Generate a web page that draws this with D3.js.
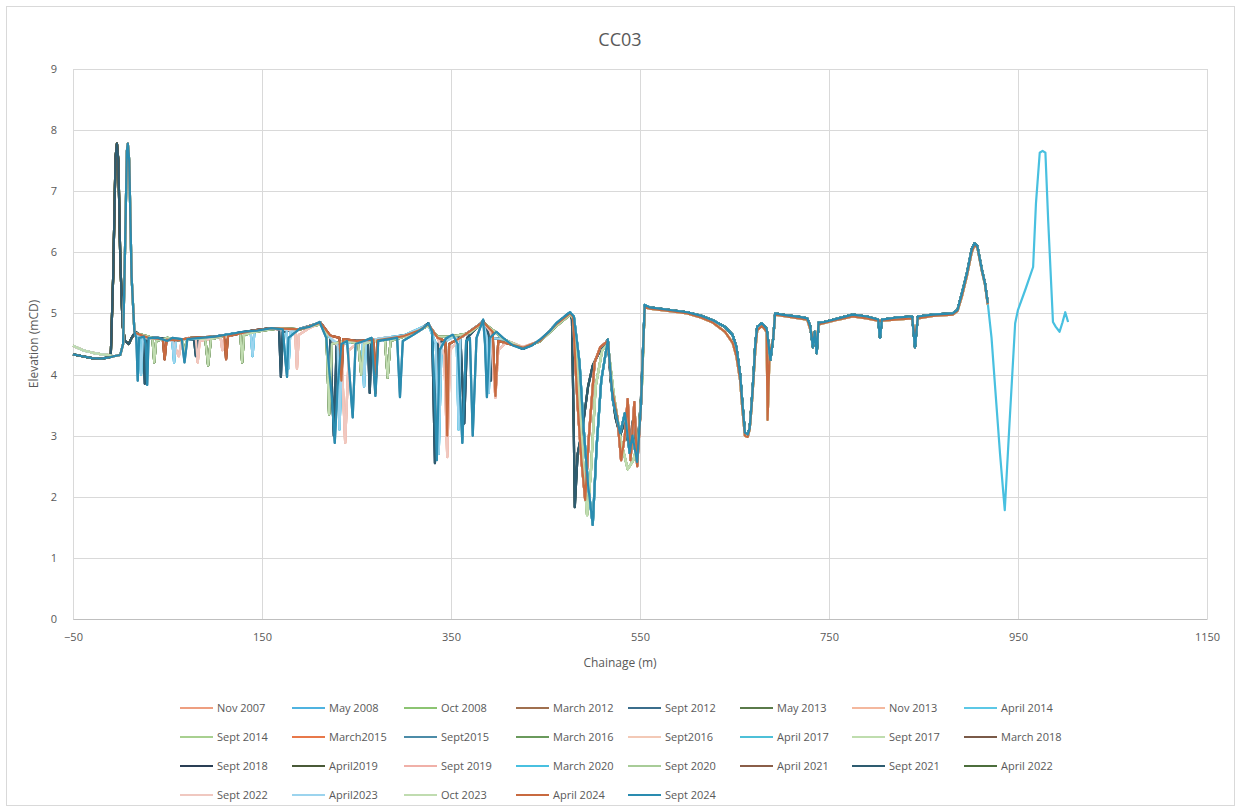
<!DOCTYPE html>
<html><head><meta charset="utf-8">
<script src="https://cdn.jsdelivr.net/npm/d3@7"></script>
<style>body{margin:0;background:#fff}svg text{font-family:"Open Sans","Liberation Sans",sans-serif;fill:#595959}</style>
</head><body><svg id="c" width="1241" height="812"></svg>
<script>
// ---- data ----
const xTicks = [-50, 150, 350, 550, 750, 950, 1150];
const yTicks = [0,1,2,3,4,5,6,7,8,9];
const seriesNames = ["Nov 2007","May 2008","Oct 2008","March 2012","Sept 2012","May 2013","Nov 2013","April 2014",
 "Sept 2014","March2015","Sept2015","March 2016","Sept2016","April 2017","Sept 2017","March 2018",
 "Sept 2018","April2019","Sept 2019","March 2020","Sept 2020","April 2021","Sept 2021","April 2022",
 "Sept 2022","April2023","Oct 2023","April 2024","Sept 2024"];
const seriesColors = ["#EE9F80","#4FB3E0","#8CC472","#A0704F","#3B6E8C","#5A7A4A","#F4B89E","#5CC8E6",
 "#A8D090","#E8784A","#4C8CA8","#6A9A5C","#F3C9B6","#4EC0D8","#BFDDAE","#7A5A48",
 "#2A3F55","#4A5A38","#F0B0A8","#48C0E0","#A8CC98","#8A5E48","#2E5C70","#4C6E3C",
 "#F0C8C0","#9CD4EE","#C0DCB0","#C86A40","#2A8CB0"];

const startUpper = [[-50,4.47],[-40,4.4],[-30,4.36],[-20,4.33],[-12,4.32]];
const startLower = [[-50,4.33],[-40,4.3],[-30,4.27],[-20,4.26],[-12,4.28]];
const peakA = [[-10,4.32],[-7.5,5.6],[-5,7.55],[-3.5,7.78],[-2,7.5],[0,5.9],[2.5,4.8],[5,4.55],[9,4.5],[12,4.6]];
const peakB = [[-7,4.3],[0,4.32],[3,4.5],[5,6.0],[7,7.65],[8,7.78],[9.5,7.5],[12,5.6],[15,4.7]];

const levelTeal = [[17,4.6],[18.5,3.9],[20,4.6],[25,4.62],[27,4.5],[28.5,3.83],[30,4.6],[40,4.6],[50,4.55],[55,4.6],[65,4.58],[68,4.2],[71,4.58],[85,4.6],[100,4.62],[115,4.66],[130,4.7],[145,4.72],[160,4.76],[172,4.74],[175,4.2],[176.5,3.96],[178,4.6],[190,4.75],[200,4.78],[211,4.86],[218,4.6],[224,3.6],[227,2.88],[230,3.8],[234,4.5],[240,4.55],[244,3.7],[246,3.3],[249,4.5],[258,4.55],[266,4.6],[270,3.65],[273,4.55],[285,4.58],[293,4.6],[296,3.63],[299,4.55],[310,4.65],[320,4.75],[326,4.84],[330,4.7],[333,3.5],[335,2.6],[338,4.4],[345,4.6],[352,4.65],[357,4.5],[362,2.88],[366,4.55],[370,4.6],[373,3.0],[377,4.6],[384,4.9],[386,4.5],[388,3.63],[391,4.6],[398,4.7],[405,4.6],[415,4.48],[426,4.42],[435,4.47],[444,4.57],[455,4.72],[462,4.85],[470,4.95],[476,5.02]];
const levelSalmon = [[16,4.65],[25,4.6],[40,4.58],[55,4.55],[62,4.3],[65,4.55],[72,4.6],[80,4.58],[82,4.2],[84,4.55],[100,4.6],[106,4.62],[108,4.4],[110,4.6],[120,4.66],[140,4.7],[160,4.75],[185,4.72],[187,4.1],[189,4.65],[200,4.76],[212,4.84],[222,4.62],[234,4.4],[238,2.88],[242,4.4],[250,4.5],[260,4.55],[280,4.6],[300,4.62],[315,4.7],[326,4.82],[336,4.6],[343,4.3],[346,2.65],[349,4.4],[360,4.6],[384,4.85],[392,4.7],[395,4.0],[397,3.62],[400,4.4],[410,4.55],[426,4.45],[444,4.55],[462,4.82],[476,5.0]];
const levelGreen = [[16,4.68],[30,4.62],[34,4.6],[36,4.2],[38,4.55],[50,4.6],[60,4.57],[66,4.55],[68,4.3],[70,4.55],[75,4.6],[90,4.58],[93,4.15],[96,4.58],[115,4.65],[127,4.68],[129,4.2],[131,4.65],[150,4.72],[170,4.76],[190,4.74],[205,4.8],[212,4.82],[218,4.7],[221,3.35],[224,4.5],[240,4.55],[252,4.5],[255,4.0],[258,4.5],[270,4.55],[280,4.58],[283,3.95],[286,4.55],[300,4.62],[316,4.72],[326,4.8],[336,4.62],[350,4.62],[370,4.68],[384,4.85],[395,4.72],[405,4.58],[426,4.44],[444,4.54],[462,4.8],[476,4.98]];
const levelDark = [[16,4.7],[24,4.62],[26,3.85],[28,4.6],[40,4.6],[60,4.56],[78,4.58],[80,4.3],[82,4.56],[100,4.62],[140,4.72],[160,4.76],[168,4.74],[170,3.96],[172,4.7],[190,4.75],[212,4.85],[222,4.62],[226,3.0],[229,4.5],[240,4.55],[262,4.56],[264,3.7],[266,4.55],[300,4.64],[316,4.72],[326,4.84],[330,4.7],[333,2.55],[336,4.5],[350,4.62],[360,4.6],[364,3.2],[367,4.6],[384,4.88],[390,4.65],[392,3.9],[394,4.6],[405,4.58],[426,4.42],[444,4.55],[462,4.84],[476,5.02]];
const levelOrange = [[16,4.68],[30,4.6],[45,4.58],[47,4.25],[49,4.57],[60,4.56],[75,4.6],[100,4.62],[110,4.64],[112,4.25],[114,4.63],[140,4.72],[160,4.76],[190,4.74],[212,4.85],[222,4.64],[232,4.6],[234,3.9],[236,4.58],[250,4.55],[268,4.57],[270,3.7],[272,4.56],[300,4.63],[316,4.72],[326,4.82],[336,4.6],[344,4.55],[346,3.0],[348,4.5],[360,4.6],[384,4.86],[394,4.7],[397,3.65],[400,4.55],[426,4.44],[444,4.55],[462,4.83],[476,5.0]];
const levelBlue = [[16,4.68],[20,4.6],[22,4.0],[24,4.6],[40,4.58],[55,4.56],[57,4.2],[59,4.56],[75,4.58],[100,4.62],[120,4.67],[138,4.7],[140,4.3],[142,4.7],[160,4.76],[176,4.74],[178,4.1],[180,4.7],[212,4.85],[222,4.6],[230,4.5],[232,3.1],[235,4.5],[250,4.55],[256,4.55],[258,3.8],[260,4.55],[280,4.6],[300,4.64],[326,4.82],[334,4.5],[337,2.7],[340,4.5],[350,4.6],[356,4.6],[358,3.1],[360,4.6],[384,4.86],[388,4.6],[390,3.7],[392,4.6],[405,4.58],[426,4.43],[444,4.55],[462,4.84],[476,5.02]];

const trenchA = [[478,4.9],[480,3.0],[481,1.83],[484,2.7],[489,3.1],[495,3.8],[500,4.15],[508,4.4],[516,4.57],[519,3.9],[524,3.3],[529,3.0],[533,3.2],[539,2.8],[543,3.3],[547,2.7],[551,3.6],[555,5.12]];
const trenchB = [[479,4.95],[484,3.5],[488,2.6],[492,1.95],[496,3.0],[502,4.2],[508,4.45],[516,4.55],[520,3.8],[526,3.3],[530,2.6],[534,3.0],[537,3.6],[540,2.6],[544,3.55],[547,2.5],[551,3.5],[555,5.1]];
const trenchC = [[480,4.95],[486,4.2],[490,3.2],[495,2.2],[500,1.54],[504,2.8],[509,3.9],[516,4.57],[521,3.6],[529,3.04],[534,3.37],[539,2.72],[542,3.0],[547,2.57],[551,3.5],[555,5.14]];
const trenchD = [[479,4.92],[485,3.8],[490,2.5],[494,1.7],[498,2.4],[503,3.8],[510,4.4],[516,4.5],[522,3.7],[530,2.9],[537,2.45],[543,2.6],[548,2.9],[552,3.8],[555,5.1]];

const rightMain = [[560,5.1],[580,5.06],[600,5.02],[615,4.96],[627,4.89],[640,4.78],[648,4.65],[652,4.45],[656,4.0],[658,3.6],[661,3.05],[664,3.02],[666,3.12],[668,3.5],[670,3.95],[672,4.5],[674,4.78],[679,4.84],[684,4.75],[686,4.5],[688,4.24],[691,4.6],[693,5.0],[700,4.98],[710,4.96],[720,4.94],[727,4.92],[730,4.8],[733,4.45],[735,4.7],[737,4.35],[739,4.85],[745,4.86],[760,4.92],[775,4.98],[790,4.95],[802,4.9],[804,4.6],[806,4.9],[820,4.93],[838,4.95],[841,4.45],[844,4.95],[860,4.98],[881,5.0],[886,5.06],[891,5.35],[896,5.66],[901,6.05],[904,6.15],[907,6.1],[912,5.7],[915,5.5],[918,5.17]];
const rightAlt = [[560,5.08],[580,5.04],[600,5.0],[615,4.93],[627,4.85],[640,4.7],[648,4.52],[652,4.3],[656,3.9],[658,3.5],[661,3.0],[664,2.98],[666,3.1],[668,3.45],[670,3.9],[672,4.4],[674,4.72],[679,4.8],[684,4.7],[685,3.26],[687,4.3],[691,4.6],[693,4.98],[710,4.94],[727,4.9],[733,4.6],[737,4.5],[739,4.82],[760,4.9],[775,4.95],[790,4.92],[802,4.88],[806,4.88],[820,4.9],[838,4.92],[841,4.6],[844,4.92],[860,4.96],[881,4.98],[886,5.04],[891,5.3],[896,5.62],[901,6.0],[904,6.12],[907,6.08],[912,5.68],[915,5.48],[918,5.15]];
const farRight = [[922,4.6],[926,3.75],[931,2.7],[936,1.78],[941,3.2],[947,4.84],[950,5.06],[958,5.4],[966,5.76],[969,6.8],[973,7.63],[976,7.66],[979,7.63],[982,6.5],[987,4.86],[990,4.78],[994,4.7],[997,4.85],[1000,5.02],[1003,4.86]];

// which segments each series is made of (by series index)
const seriesStart  = ["U","U","U","U","L","L","U","U","U","U","L","L","U","L","U","L","L","L","U","L","U","L","L","L","U","U","U","L","L"];
const seriesPeak   = ["A","A","A","A","A","A","A","B","A","B","B","A","B","B","B","A","A","A","B","B","B","A","A","B","B","B","B","B","B"];
const seriesLevel  = ["salmon","blue","green","orange","dark","green","salmon","blue","green","orange","teal","green","salmon","blue","green","orange","dark","green","salmon","blue","green","orange","dark","green","salmon","blue","green","orange","teal"];
const seriesTrench = ["B","C","D","B","A","D","B","C","D","B","C","D","B","C","D","B","A","A","B","C","D","B","A","C","B","C","D","B","C"];
const seriesRight  = ["alt","main","alt","main","main","main","alt","main","alt","alt","main","main","alt","main","alt","main","main","main","alt","main","alt","main","main","main","alt","main","alt","alt","main"];
const seriesExtended = ["March 2020"];

// ---- build ----
const starts = {U: startUpper, L: startLower};
const peaks = {A: peakA, B: peakB};
const levels = {teal: levelTeal, salmon: levelSalmon, green: levelGreen, dark: levelDark, orange: levelOrange, blue: levelBlue};
const trenches = {A: trenchA, B: trenchB, C: trenchC, D: trenchD};
const rights = {main: rightMain, alt: rightAlt};

const series = seriesNames.map((name, i) => {
  let pts = [].concat(starts[seriesStart[i]], peaks[seriesPeak[i]], levels[seriesLevel[i]],
    trenches[seriesTrench[i]], rights[seriesRight[i]]);
  if (seriesExtended.includes(name)) pts = pts.concat(farRight);
  return {name, color: seriesColors[i], pts};
});

const svg = d3.select("#c");
const W = 1241, H = 812;
const plot = {l: 73, r: 1207, t: 69, b: 619};
const x = d3.scaleLinear().domain([-50, 1150]).range([plot.l, plot.r]);
const y = d3.scaleLinear().domain([0, 9]).range([plot.b, plot.t]);

svg.append("rect").attr("x", 6.5).attr("y", 6.5).attr("width", W - 13).attr("height", H - 13)
  .attr("fill", "#fff").attr("stroke", "#d9d9d9");

// grid
const g = svg.append("g");
g.selectAll("line.h").data(yTicks).join("line")
  .attr("x1", plot.l).attr("x2", plot.r).attr("y1", d => Math.round(y(d)) + 0.5).attr("y2", d => Math.round(y(d)) + 0.5)
  .attr("stroke", "#d9d9d9").attr("stroke-width", 1);
g.selectAll("line.v").data(xTicks).join("line")
  .attr("y1", plot.t).attr("y2", plot.b).attr("x1", d => Math.round(x(d)) + 0.5).attr("x2", d => Math.round(x(d)) + 0.5)
  .attr("stroke", "#d9d9d9").attr("stroke-width", 1);

// axes labels via d3 axes
const xAxis = svg.append("g").attr("transform", `translate(0,${plot.b})`)
  .call(d3.axisBottom(x).tickValues(xTicks).tickFormat(d3.format("d")).tickSize(0).tickPadding(14));
xAxis.select(".domain").attr("stroke", "#bfbfbf");
xAxis.selectAll("text").attr("font-size", 11).attr("fill", "#595959");
const yAxis = svg.append("g").attr("transform", `translate(${plot.l},0)`)
  .call(d3.axisLeft(y).tickValues(yTicks).tickFormat(d3.format("d")).tickSize(0).tickPadding(16));
yAxis.select(".domain").remove();
yAxis.selectAll("text").attr("font-size", 11).attr("fill", "#595959");

// lines
const line = d3.line().x(d => x(d[0])).y(d => y(d[1]));
svg.append("g").selectAll("path").data(series).join("path")
  .attr("d", d => line(d.pts)).attr("fill", "none").attr("stroke", d => d.color)
  .attr("stroke-width", 2.2).attr("stroke-linejoin", "round");

// titles
svg.append("text").attr("x", 620).attr("y", 46).attr("text-anchor", "middle").attr("font-size", 18).text("CC03");
svg.append("text").attr("x", 620).attr("y", 667).attr("text-anchor", "middle").attr("font-size", 12).text("Chainage (m)");
svg.append("text").attr("transform", "translate(38,344) rotate(-90)").attr("text-anchor", "middle").attr("font-size", 12).text("Elevation (mCD)");

// legend
const leg = svg.append("g");
series.forEach((s, i) => {
  const col = i % 8, row = Math.floor(i / 8);
  const lx = 180 + col * 112, ly = 708 + row * 29;
  leg.append("line").attr("x1", lx).attr("x2", lx + 33).attr("y1", ly).attr("y2", ly)
    .attr("stroke", s.color).attr("stroke-width", 2);
  leg.append("text").attr("x", lx + 37).attr("y", ly + 4).attr("font-size", 11).text(s.name);
});
</script></body></html>
